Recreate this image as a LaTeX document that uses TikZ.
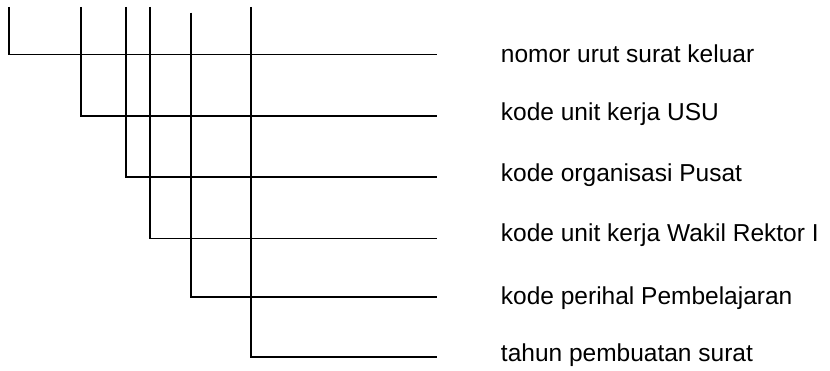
\documentclass[tikz,border=0pt]{standalone}
\usepackage{fontspec}
\setmainfont{Liberation Sans}
\usepackage{tikz}

\begin{document}
\begin{tikzpicture}[x=1pt,y=1pt,line width=1.9pt,
		lbl/.style={anchor=base west,inner sep=0pt,font=\fontsize{24.5}{28}\selectfont}]
			\useasboundingbox (0,0) rectangle (830,371);
			\coordinate (t1) at (9,364);
			\coordinate (t2) at (80.7,364);
			\coordinate (t3) at (126,364);
			\coordinate (t4) at (150,364);
			\coordinate (t5) at (190.7,358.3);
			\coordinate (t6) at (250.7,364);
			\coordinate (e1) at (437,316.5);
			\coordinate (e2) at (437,255);
			\coordinate (e3) at (437,193.7);
			\coordinate (e4) at (437,132.5);
			\coordinate (e5) at (437,74.3);
			\coordinate (e6) at (437,13.7);
			\draw (t1) |- (e1);
			\draw (t2) |- (e2);
			\draw (t3) |- (e3);
			\draw (t4) |- (e4);
			\draw (t5) |- (e5);
			\draw (t6) |- (e6);
			\node[lbl] (nomor) at (500,308) {nomor urut surat keluar};
			\node[lbl] (usu) at (500,250.3) {kode unit kerja USU};
			\node[lbl] (pusat) at (500,189.3) {kode organisasi Pusat};
			\node[lbl] (wr) at (500,129.3) {kode unit kerja Wakil Rektor I};
			\node[lbl] (perihal) at (500,66) {kode perihal Pembelajaran};
			\node[lbl] (tahun) at (500,9.3) {tahun pembuatan surat};
		\end{tikzpicture}
\end{document}
